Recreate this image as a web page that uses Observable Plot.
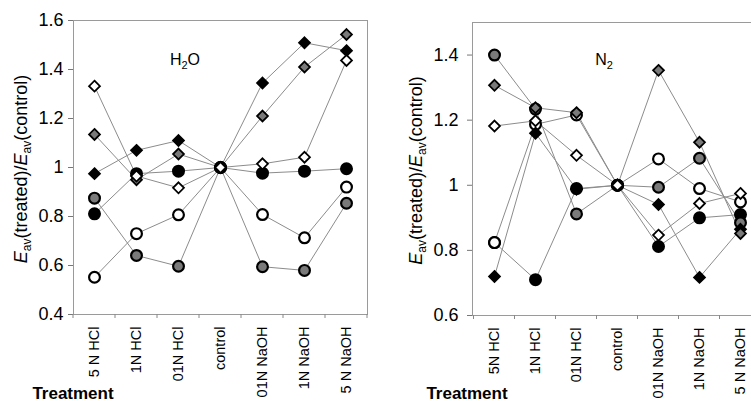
<!DOCTYPE html>
<html><head><meta charset="utf-8">
<script src="https://cdn.jsdelivr.net/npm/d3@7"></script>
<script src="https://cdn.jsdelivr.net/npm/@observablehq/plot@0.6"></script>
<style>
html,body{margin:0;padding:0;background:#fff;}
#wrap{position:relative;width:751px;height:405px;overflow:hidden;background:#fff;}
#left{position:absolute;left:0;top:0;width:375px;height:405px;}
#right{position:absolute;left:376px;top:0;width:393px;height:405px;}
svg{overflow:visible;max-width:none !important;}
svg text{font-family:"Liberation Sans",Arial,sans-serif;fill:#000;}
</style></head><body>
<div id="wrap"><div id="left"></div><div id="right"></div></div>
<script>
// ---- categories ----
const treatmentsH2O = ["5 N HCl","1N HCl","01N HCl","control","01N NaOH","1N NaOH","5 N NaOH"];
const treatmentsN2  = ["5N HCl","1N HCl","01N HCl","control","01N NaOH","1N NaOH","5 N NaOH"];

// ---- tick values ----
const yTicksH2O = [0.4, 0.6, 0.8, 1, 1.2, 1.4, 1.6];
const yTicksN2  = [0.6, 0.8, 1, 1.2, 1.4];

// ---- H2O panel series ----
const h2oBlackCircle   = [0.811, 0.975, 0.985, 1.0, 0.977, 0.985, 0.995];
const h2oGrayCircle    = [0.875, 0.641, 0.597, 1.0, 0.595, 0.580, 0.854];
const h2oWhiteCircle   = [0.552, 0.730, 0.807, 1.0, 0.808, 0.713, 0.920];
const h2oBlackDiamond  = [0.975, 1.070, 1.110, 1.0, 1.345, 1.509, 1.477];
const h2oGrayDiamond   = [1.135, 0.950, 1.055, 1.0, 1.210, 1.410, 1.543];
const h2oWhiteDiamond  = [1.332, 0.965, 0.917, 1.0, 1.015, 1.042, 1.437];

// ---- N2 panel series ----
const n2BlackCircle    = [0.824, 0.710, 0.990, 1.0, 0.812, 0.900, 0.910];
const n2GrayCircle     = [1.400, 1.234, 0.912, 1.0, 0.994, 1.083, 0.885];
const n2WhiteCircle    = [0.824, 1.187, 1.216, 1.0, 1.081, 0.990, 0.949];
const n2BlackDiamond   = [0.720, 1.160, 0.988, 1.0, 0.941, 0.717, 0.865];
const n2GrayDiamond    = [1.307, 1.238, 1.223, 1.0, 1.353, 1.132, 0.852];
const n2WhiteDiamond   = [1.182, 1.198, 1.092, 1.0, 0.847, 0.944, 0.975];

// ---- marker styles ----
const markerStyles = [
  {name:"bc", symbol:"circle",   fill:"#000"},
  {name:"gc", symbol:"circle",   fill:"#7a7a7a"},
  {name:"wc", symbol:"circle",   fill:"#fff"},
  {name:"bd", symbol:"diamond2", fill:"#000"},
  {name:"gd", symbol:"diamond2", fill:"#7a7a7a"},
  {name:"wd", symbol:"diamond2", fill:"#fff"}
];

function makePanel(cats, valueArrays, yDomain, yTicks, m) {
  const rows = [];
  valueArrays.forEach((vals, k) => {
    const st = markerStyles[k];
    vals.forEach((v, i) => rows.push({treatment: cats[i], value: v, series: st.name}));
  });
  const marks = [
    Plot.frame({stroke: "#9a9a9a", strokeWidth: 1}),
    Plot.line(rows, {x: "treatment", y: "value", z: "series", stroke: "#8c8c8c", strokeWidth: 1})
  ];
  for (const st of markerStyles) {
    marks.push(Plot.dot(rows.filter(d => d.series === st.name), {
      x: "treatment", y: "value", symbol: st.symbol,
      r: st.symbol === "circle" ? 5.4 : 4.9,
      fill: st.fill, stroke: "#000", strokeWidth: st.symbol === "circle" ? 2.2 : 1.8
    }));
  }
  const plot = Plot.plot({
    width: m.width, height: 405,
    marginLeft: m.left, marginRight: m.right, marginTop: m.top, marginBottom: m.bottom,
    style: {background: "transparent", fontFamily: "Liberation Sans, Arial, sans-serif", maxWidth: "none"},
    x: {type: "point", domain: cats, padding: 0.5, tickSize: 0, tickPadding: 12, tickRotate: -90, label: null},
    y: {domain: yDomain, ticks: yTicks, tickFormat: d => String(d), tickSize: 5, tickPadding: m.ypad, label: null},
    marks
  });
  const svg = d3.select(plot);
  svg.style("max-width", "none").style("width", m.width + "px").style("height", "405px");
  svg.selectAll('g[aria-label^="y-axis"] text').style("font-size", "18px");
  svg.selectAll('g[aria-label^="x-axis"] text').style("font-size", "14.5px");
  svg.selectAll('g[aria-label^="y-axis"] path, g[aria-label^="y-axis"] line').attr("stroke", "#777");
  // boundary ticks on x axis, from the plot's own x scale
  const xs = plot.scale("x");
  const pos = cats.map(c => xs.apply(c));
  const step = pos[1] - pos[0];
  const bounds = [pos[0] - step / 2, ...pos.map(p => p + step / 2)];
  const yb = 405 - m.bottom;
  svg.append("g").selectAll("line").data(bounds).join("line")
    .attr("x1", d => d).attr("x2", d => d).attr("y1", yb).attr("y2", yb + 4)
    .attr("stroke", "#888").attr("stroke-width", 1);
  // y label
  const yl = svg.append("text")
    .attr("transform", `translate(${m.ylabX},${(m.top + 405 - m.bottom) / 2 + 2}) rotate(-90)`)
    .attr("text-anchor", "middle").style("font-size", "18px");
  yl.append("tspan").attr("font-style", "italic").text("E");
  yl.append("tspan").attr("dy", 4).style("font-size", "12px").text("av");
  yl.append("tspan").attr("dy", -4).text("(treated)/");
  yl.append("tspan").attr("font-style", "italic").text("E");
  yl.append("tspan").attr("dy", 4).style("font-size", "12px").text("av");
  yl.append("tspan").attr("dy", -4).text("(control)");
  // Treatment label
  svg.append("text").attr("x", m.treatX).attr("y", 399)
    .style("font-size", "17px").style("font-weight", "bold").text("Treatment");
  // medium label
  const t = svg.append("text").attr("x", m.medX).attr("y", 65).attr("text-anchor", "middle").style("font-size", "16px");
  t.append("tspan").text(m.medium[0]);
  t.append("tspan").attr("dy", 4).style("font-size", "11px").text(m.medium[1]);
  if (m.medium[2]) t.append("tspan").attr("dy", -4).text(m.medium[2]);
  return plot;
}

document.getElementById("left").appendChild(makePanel(
  treatmentsH2O,
  [h2oBlackCircle, h2oGrayCircle, h2oWhiteCircle, h2oBlackDiamond, h2oGrayDiamond, h2oWhiteDiamond],
  [0.4, 1.6], yTicksH2O,
  {width: 375, left: 73, right: 8, top: 20, bottom: 91, ypad: 5, ylabX: 27, treatX: 73, medX: 185, medium: ["H", "2", "O"]}
));
document.getElementById("right").appendChild(makePanel(
  treatmentsN2,
  [n2BlackCircle, n2GrayCircle, n2WhiteCircle, n2BlackDiamond, n2GrayDiamond, n2WhiteDiamond],
  [0.6, 1.5], yTicksN2,
  {width: 393, left: 96, right: 8, top: 22, bottom: 90, ypad: 9, ylabX: 46, treatX: 91, medX: 228, medium: ["N", "2", ""]}
));
</script>
</body></html>
